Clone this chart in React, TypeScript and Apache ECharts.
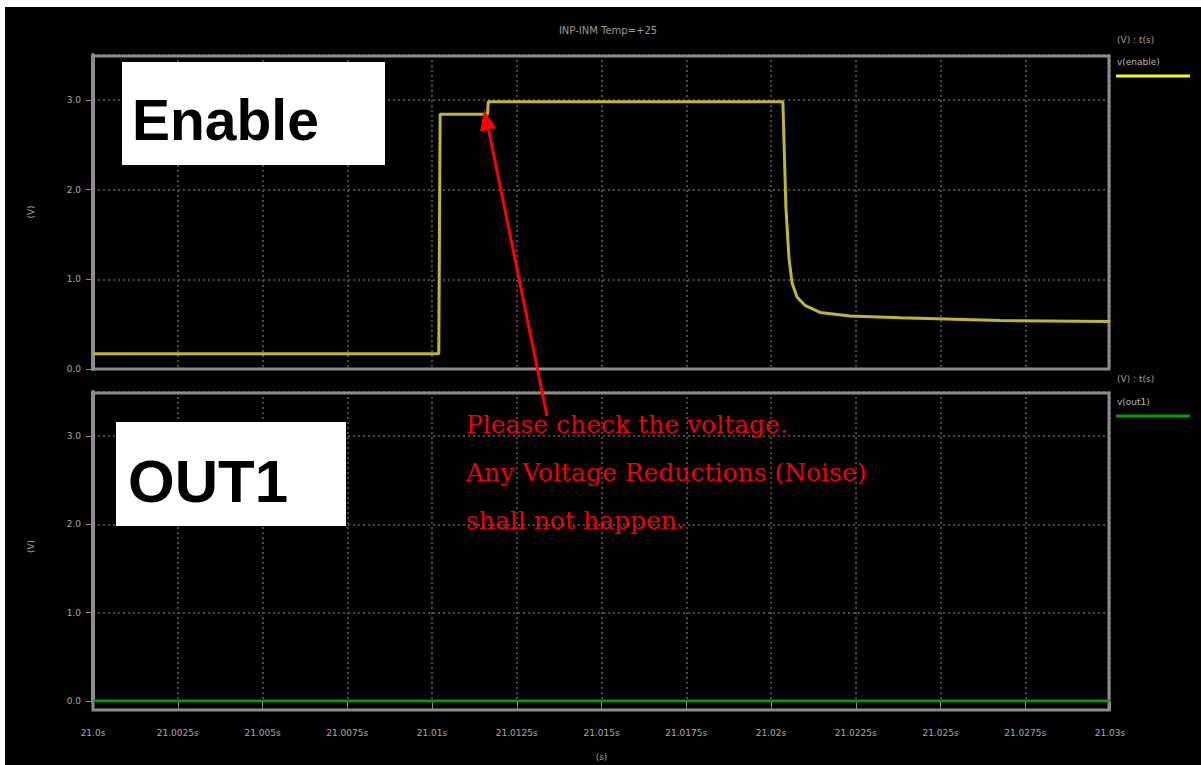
import React, { useEffect, useRef } from "react";
import * as echarts from "echarts";

// time in ms after 21 s
const enableT = [0, 10.2, 10.24, 11.64, 11.66, 20.35, 20.44, 20.53, 20.62, 20.77, 21.0, 21.45, 22.33, 23.8, 26.75, 30];
const enableV = [0.17, 0.17, 2.84, 2.84, 2.98, 2.98, 1.8, 1.24, 0.96, 0.8, 0.71, 0.63, 0.59, 0.57, 0.54, 0.53];
const out1T = [0, 30];
const out1V = [0, 0];
const yTicks = [0, 1, 2, 3];
const title = "INP-INM Temp=+25";
const noteLines = ["Please check the voltage.", "Any Voltage Reductions (Noise)", "shall not happen."];

const fmtX = (v: number) => {
  if (v === 0) return "21.0s";
  const s = (21 + v / 1000).toFixed(4).replace(/0+$/, "");
  return s + "s";
};
const fmtY = (v: number) => (yTicks.includes(v) ? v.toFixed(1) : "");

export default function App() {
  const ref = useRef<HTMLDivElement>(null);
  useEffect(() => {
    if (!ref.current) return;
    const chart = echarts.init(ref.current, null, { renderer: "svg" });
    const gridLine = { show: true, lineStyle: { color: "#4a4a4a", width: 2, type: [2, 3] as any } };
    const lbl = { color: "#a8a8a8", fontSize: 9, fontFamily: "DejaVu Sans" };
    const xBase = {
      type: "value" as const,
      min: 0,
      max: 30,
      interval: 2.5,
      splitLine: gridLine,
    };
    const yBase = {
      type: "value" as const,
      min: 0,
      max: 3.5,
      interval: 1,
      splitLine: gridLine,
      axisLine: { show: true, lineStyle: { color: "#8c8c8c", width: 4 } },
      axisTick: { show: true, length: 7, lineStyle: { color: "#8c8c8c", width: 1 } },
      axisLabel: { ...lbl, formatter: fmtY, margin: 12, showMaxLabel: false },
      name: "(V)",
      nameLocation: "middle" as const,
      nameGap: 58,
      nameTextStyle: { color: "#a0a0a0", fontSize: 9, fontFamily: "DejaVu Sans" },
    };
    const arrowTip = [484, 110];
    chart.setOption({
      animation: false,
      backgroundColor: "#ffffff",
      title: {
        text: title,
        left: 603,
        top: 20,
        textAlign: "center",
        textStyle: { color: "#9a9a9a", fontSize: 10, fontWeight: "normal", fontFamily: "DejaVu Sans" },
      },
      grid: [
        { left: 93, top: 55, width: 1017, height: 314, show: false },
        { left: 93, top: 392, width: 1017, height: 309, show: false },
      ],
      xAxis: [
        {
          ...xBase,
          gridIndex: 0,
          axisLine: { show: false },
          axisTick: { show: false },
          axisLabel: { show: false },
        },
        {
          ...xBase,
          gridIndex: 1,
          offset: 9,
          axisLine: { show: false },
          axisTick: { show: true, length: 10, lineStyle: { color: "#8c8c8c", width: 1 } },
          axisLabel: { ...lbl, formatter: fmtX, margin: 18 },
          name: "(s)",
          nameLocation: "middle",
          nameGap: 42,
          nameTextStyle: { color: "#a0a0a0", fontSize: 9, fontFamily: "DejaVu Sans" },
        },
      ],
      yAxis: [
        { ...yBase, gridIndex: 0 },
        { ...yBase, gridIndex: 1 },
      ],
      series: [
        {
          name: "v(enable)",
          type: "line",
          xAxisIndex: 0,
          yAxisIndex: 0,
          data: enableT.map((t, i) => [t, enableV[i]]),
          symbol: "none",
          lineStyle: { color: "#bdb734", width: 3 },
          z: 5,
        },
        {
          name: "v(out1)",
          type: "line",
          xAxisIndex: 1,
          yAxisIndex: 1,
          data: out1T.map((t, i) => [t, out1V[i]]),
          symbol: "none",
          lineStyle: { color: "#00a000", width: 3 },
          z: 5,
        },
      ],
      graphic: [
        { type: "rect", z: -10, silent: true, shape: { x: 5, y: 7, width: 1196, height: 758 }, style: { fill: "#000000" } },
        { type: "rect", z: 1, silent: true, shape: { x: 93, y: 56, width: 1016, height: 313 }, style: { fill: "none", stroke: "#8c8c8c", lineWidth: 3 } },
        { type: "rect", z: 1, silent: true, shape: { x: 93, y: 393, width: 1016, height: 317 }, style: { fill: "none", stroke: "#8c8c8c", lineWidth: 3 } },
        // legends
        { type: "text", x: 1117, y: 35, style: { text: "(V) : t(s)", fill: "#a0a0a0", fontSize: 9, fontFamily: "DejaVu Sans" } },
        { type: "text", x: 1117, y: 57, style: { text: "v(enable)", fill: "#b8b8b8", fontSize: 9, fontFamily: "DejaVu Sans" } },
        { type: "line", shape: { x1: 1116, y1: 76, x2: 1190, y2: 76 }, style: { stroke: "#f5f528", lineWidth: 3 } },
        { type: "text", x: 1117, y: 374, style: { text: "(V) : t(s)", fill: "#a0a0a0", fontSize: 9, fontFamily: "DejaVu Sans" } },
        { type: "text", x: 1117, y: 397, style: { text: "v(out1)", fill: "#b8b8b8", fontSize: 9, fontFamily: "DejaVu Sans" } },
        { type: "line", shape: { x1: 1116, y1: 416, x2: 1190, y2: 416 }, style: { stroke: "#00a000", lineWidth: 3 } },
        // labels boxes
        { type: "rect", z: 10, shape: { x: 122, y: 62, width: 263, height: 103 }, style: { fill: "#ffffff" } },
        { type: "text", z: 11, x: 132, y: 120, style: { text: "Enable", fill: "#000000", fontSize: 57, fontWeight: "bold", fontFamily: "Liberation Sans", textVerticalAlign: "middle" } },
        { type: "rect", z: 10, shape: { x: 116, y: 422, width: 230, height: 104 }, style: { fill: "#ffffff" } },
        { type: "text", z: 11, x: 128, y: 481, style: { text: "OUT1", fill: "#000000", fontSize: 60, fontWeight: "bold", fontFamily: "Liberation Sans", textVerticalAlign: "middle" } },
        // annotation
        { type: "line", z: 20, shape: { x1: 547, y1: 416, x2: 488, y2: 127 }, style: { stroke: "#ff0000", lineWidth: 3 } },
        {
          type: "polygon",
          z: 20,
          shape: { points: [arrowTip, [496, 128], [480, 131.5]] },
          style: { fill: "#ff0000" },
        },
        ...noteLines.map((t, i) => ({
          type: "text",
          z: 20,
          x: 466,
          y: 424 + i * 48,
          style: { text: t, fill: "#f00000", fontSize: 25, fontFamily: "DejaVu Serif", textVerticalAlign: "middle" },
        })),
      ],
    });
    return () => chart.dispose();
  }, []);
  return <div ref={ref} style={{ position: "fixed", left: 0, top: 0, width: 1201, height: 765 }} />;
}
